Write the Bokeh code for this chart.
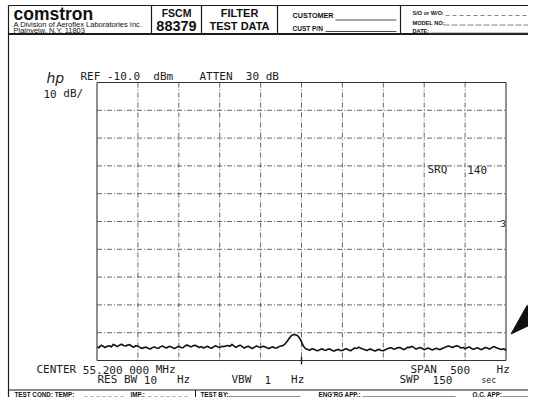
from bokeh.plotting import figure
from bokeh.models import Range1d
from bokeh.embed import file_html
from bokeh.resources import INLINE
from bokeh.core.properties import value

# ---------------- data ----------------
freq_offset_hz = [
    -250, -247.5, -245, -242.5, -240, -237.5, -235, -232.5, -230, -227.5,
    -225, -222.5, -220, -217.5, -215, -212.5, -210, -207.5, -205, -202.5,
    -200, -197.5, -195, -192.5, -190, -187.5, -185, -182.5, -180, -177.5,
    -175, -172.5, -170, -167.5, -165, -162.5, -160, -157.5, -155, -152.5,
    -150, -147.5, -145, -142.5, -140, -137.5, -135, -132.5, -130, -127.5,
    -125, -122.5, -120, -117.5, -115, -112.5, -110, -107.5, -105, -102.5,
    -100, -97.5, -95, -92.5, -90, -87.5, -85, -82.5, -80, -77.5,
    -75, -72.5, -70, -67.5, -65, -62.5, -60, -57.5, -55, -52.5,
    -50, -47.5, -45, -42.5, -40, -37.5, -35, -32.5, -30, -27.5,
    -25, -22.5, -20, -17.5, -15, -12.5, -10, -7.5, -5, -2.5,
    0, 2.5, 5, 7.5, 10, 12.5, 15, 17.5, 20, 22.5,
    25, 27.5, 30, 32.5, 35, 37.5, 40, 42.5, 45, 47.5,
    50, 52.5, 55, 57.5, 60, 62.5, 65, 67.5, 70, 72.5,
    75, 77.5, 80, 82.5, 85, 87.5, 90, 92.5, 95, 97.5,
    100, 102.5, 105, 107.5, 110, 112.5, 115, 117.5, 120, 122.5,
    125, 127.5, 130, 132.5, 135, 137.5, 140, 142.5, 145, 147.5,
    150, 152.5, 155, 157.5, 160, 162.5, 165, 167.5, 170, 172.5,
    175, 177.5, 180, 182.5, 185, 187.5, 190, 192.5, 195, 197.5,
    200, 202.5, 205, 207.5, 210, 212.5, 215, 217.5, 220, 222.5,
    225, 227.5, 230, 232.5, 235, 237.5, 240, 242.5, 245, 247.5,
    250,
]
level_dbm = [
    -105.0, -105.4, -104.5, -104.9, -105.3, -104.9, -104.7, -105.1, -104.2, -104.6,
    -105.0, -104.5, -104.1, -104.6, -104.8, -104.4, -104.3, -104.9, -105.2, -104.7,
    -104.8, -105.3, -105.7, -105.3, -105.2, -105.6, -105.9, -105.4, -105.1, -105.5,
    -105.6, -105.1, -104.8, -105.2, -105.5, -105.0, -105.0, -105.4, -105.7, -105.2,
    -104.9, -105.3, -105.4, -104.8, -104.4, -104.8, -105.1, -104.7, -104.5, -104.9,
    -105.3, -105.0, -105.5, -105.2, -104.9, -105.3, -105.6, -105.1, -104.7, -105.1,
    -105.4, -104.9, -105.0, -104.8, -104.6, -104.9, -104.2, -104.8, -105.3, -104.8,
    -104.5, -105.0, -105.5, -105.1, -104.9, -105.3, -105.7, -105.2, -104.8, -105.1,
    -105.4, -104.9, -105.0, -105.4, -105.7, -105.3, -105.1, -105.5, -105.5, -105.0,
    -104.8, -104.6, -104.0, -103.1, -102.0, -101.1, -100.7, -100.7, -101.0, -101.9,
    -103.3, -104.9, -105.8, -106.0, -106.3, -105.8, -105.9, -106.3, -106.5, -106.1,
    -105.8, -106.2, -106.3, -105.9, -105.9, -106.4, -106.6, -106.2, -106.0, -106.4,
    -106.4, -106.0, -105.8, -106.2, -106.5, -106.0, -105.5, -105.7, -105.2, -105.6,
    -105.9, -106.1, -106.4, -106.0, -105.9, -106.3, -106.6, -106.2, -106.0, -106.4,
    -106.5, -106.1, -105.8, -105.5, -105.4, -105.9, -105.8, -105.4, -105.3, -105.7,
    -106.1, -105.7, -105.2, -105.3, -104.9, -105.4, -105.9, -105.6, -105.3, -105.7,
    -106.1, -105.8, -105.5, -105.9, -106.2, -105.9, -105.6, -106.0, -106.0, -105.6,
    -105.3, -105.0, -104.8, -105.1, -105.3, -104.9, -104.7, -105.0, -105.5, -105.3,
    -105.8, -105.4, -105.1, -105.6, -106.0, -105.7, -105.4, -105.8, -106.1, -105.7,
    -105.3, -105.6, -105.9, -105.4, -105.0, -105.3, -105.6, -105.9, -106.0, -105.8,
    -106.3,
]
x_grid_hz = [-250, -200, -150, -100, -50, 0, 50, 100, 150, 200, 250]
y_grid_dbm = [-10, -20, -30, -40, -50, -60, -70, -80, -90, -100, -110]
center_hz = [0]

header_lines = ["A Division of Aeroflex Laboratories Inc.", "Plainveiw, N.Y. 11803"]

# ---------------- page geometry (reference pixels) ----------------
W, H, M = 528, 397, 0
GL, GR, GT, GB = 96.5, 505.5, 82.0, 360.0

p = figure(width=W, height=H, output_backend="svg", toolbar_location=None,
           x_range=Range1d(M, M + W), y_range=Range1d(M + H, M),
           min_border=0, min_border_left=0, min_border_right=0,
           min_border_top=0, min_border_bottom=0)
p.axis.visible = False
p.grid.visible = False
p.outline_line_color = None
p.background_fill_color = "white"
p.border_fill_color = "white"

span = x_grid_hz[-1] - x_grid_hz[0]
kx = span / (GR - GL)
dbr = y_grid_dbm[0] - y_grid_dbm[-1]
ky = dbr / (GB - GT)
p.extra_x_ranges = {"hz": Range1d(x_grid_hz[0] - (GL - M) * kx, x_grid_hz[-1] + (M + W - GR) * kx)}
p.extra_y_ranges = {"db": Range1d(y_grid_dbm[-1] - (M + H - GB) * ky, y_grid_dbm[0] + (GT - M) * ky)}

INK = "#1c1c1c"


def txt(x, y, s, size, font="DejaVu Sans Mono", style="normal", color=INK, align="left"):
    p.text(x=[x], y=[y], text=[s], text_font=value(font), text_font_size=f"{size}px",
           text_font_style=style, text_color=color, text_align=align, text_baseline="middle")


PF = 11.0          # plotter text size
PITCH = PF * 0.602  # monospace advance


def plot_row(x0, y, s):
    """place each word of a fixed-pitch plotter line at its character cell"""
    i = 0
    while i < len(s):
        if s[i] == " ":
            i += 1
            continue
        j = i
        while j < len(s) and s[j] != " ":
            j += 1
        txt(x0 + i * PITCH, y, s[i:j], PF)
        i = j


def ln(x0, y0, x1, y1, w=1.0, color=INK, dash="solid", alpha=1.0):
    p.line([x0, x1], [y0, y1], line_width=w, line_color=color, line_dash=dash, line_alpha=alpha)


# ---------------- form header ----------------
ln(8, 5, 544, 5, 1.2)
ln(8, 33.5, 544, 33.5, 2.2)
ln(8, 5, 8, 405, 1.2)
for xd in [151, 201, 277, 400]:
    ln(xd, 5, xd, 33.5, 1.2)

txt(13, 13, "comstron", 17.5, "Liberation Sans", "bold", "#111")
txt(13, 24.0, header_lines[0], 7.5, "Liberation Sans", "normal", "#111")
txt(13, 29.5, header_lines[1], 7.5, "Liberation Sans", "normal", "#111")
txt(176, 12, "FSCM", 10.5, "Liberation Sans", "bold", "#111", "center")
txt(176, 25, "88379", 14.5, "Liberation Sans", "bold", "#111", "center")
txt(239, 12, "FILTER", 11, "Liberation Sans", "bold", "#111", "center")
txt(239, 25, "TEST DATA", 11, "Liberation Sans", "bold", "#111", "center")
txt(292, 15, "CUSTOMER", 7.2, "Liberation Sans", "bold", "#111")
ln(335, 19.5, 396, 19.5, 0.8)
txt(292, 28, "CUST P/N", 6.5, "Liberation Sans", "bold", "#111")
ln(325, 31, 396, 31, 0.8)
txt(412, 12.5, "S/O or W/O:", 5.6, "Liberation Sans", "bold", "#111")
ln(445, 15, 528, 15, 0.7, "#555", "4 3")
txt(412, 22, "MODEL NO:", 5.6, "Liberation Sans", "bold", "#111")
ln(443, 24.5, 528, 24.5, 0.7, "#555", "6 2")
txt(412, 30.5, "DATE:", 5.6, "Liberation Sans", "bold", "#111")
ln(430, 32.5, 528, 32.5, 0.7, "#555")

# ---------------- analyzer annotations ----------------
txt(46, 77, "hp", 14, "DejaVu Sans", "italic", "#222")
plot_row(80, 75.5, "REF -10.0  dBm")
plot_row(199, 75.5, "ATTEN  30 dB")
plot_row(43, 93, "10 dB/")
plot_row(36, 369, "CENTER 55.200 000 MHz")
plot_row(410, 369, "SPAN  500    Hz")
plot_row(97, 379, "RES BW 10   Hz")
plot_row(231, 379, "VBW  1   Hz")
plot_row(399, 379, "SWP  150")
txt(481, 380, "sec", 8)
plot_row(427, 169, "SRQ   140")
txt(500, 223, "3", 9)

# ---------------- graticule (data units) ----------------
for i, xv in enumerate(x_grid_hz):
    edge = i in (0, len(x_grid_hz) - 1)
    p.line([xv, xv], [y_grid_dbm[0], y_grid_dbm[-1]], x_range_name="hz", y_range_name="db",
           line_color="#333" if edge else "#555", line_width=1.1 if edge else 0.9,
           line_dash="solid" if edge else "5 2 1 2")
for i, yv in enumerate(y_grid_dbm):
    edge = i in (0, len(y_grid_dbm) - 1)
    p.line([x_grid_hz[0], x_grid_hz[-1]], [yv, yv], x_range_name="hz", y_range_name="db",
           line_color="#333" if edge else "#555", line_width=1.1 if edge else 0.9,
           line_dash="solid" if edge else "5 2 1 2")
# centre-frequency marker
p.line([center_hz[0], center_hz[0]], [y_grid_dbm[-1] + 1.2, y_grid_dbm[-1] - 1.4],
       x_range_name="hz", y_range_name="db", line_color=INK, line_width=1.4)

# ---------------- trace ----------------
p.line(freq_offset_hz, level_dbm, x_range_name="hz", y_range_name="db",
       line_color="#111", line_width=1.6, line_join="round")

# ---------------- arrow ----------------
p.patch([510.5, 526.5, 542.0], [333.5, 305.0, 318.5], fill_color="#111", line_color="#111")
ln(533, 312, 548, 293, 1.2, "#111")

# ---------------- footer (kept inside the canvas) ----------------
ln(8, 389.5, 544, 389.5, 1.2)
ln(195, 389.5, 195, 397, 1.0)
fs = 6.3
fy = 393.5
txt(14, fy, "TEST COND: TEMP:", fs, "Liberation Sans", "bold", "#111")
ln(84, fy + 2.5, 126, fy + 2.5, 0.6, "#666", "3 3")
txt(130, fy, "IMP.:", fs, "Liberation Sans", "bold", "#111")
ln(148, fy + 2.5, 190, fy + 2.5, 0.6, "#666", "3 3")
txt(200, fy, "TEST BY:", fs, "Liberation Sans", "bold", "#111")
ln(228, fy + 2.5, 300, fy + 2.5, 0.6, "#444")
txt(318, fy, "ENG'RG APP.:", fs, "Liberation Sans", "bold", "#111")
ln(362, fy + 2.5, 455, fy + 2.5, 0.6, "#444")
txt(472, fy, "Q.C. APP:", fs, "Liberation Sans", "bold", "#111")
ln(502, fy + 2.5, 528, fy + 2.5, 0.6, "#444")

open("out.html", "w").write(file_html(p, INLINE))
